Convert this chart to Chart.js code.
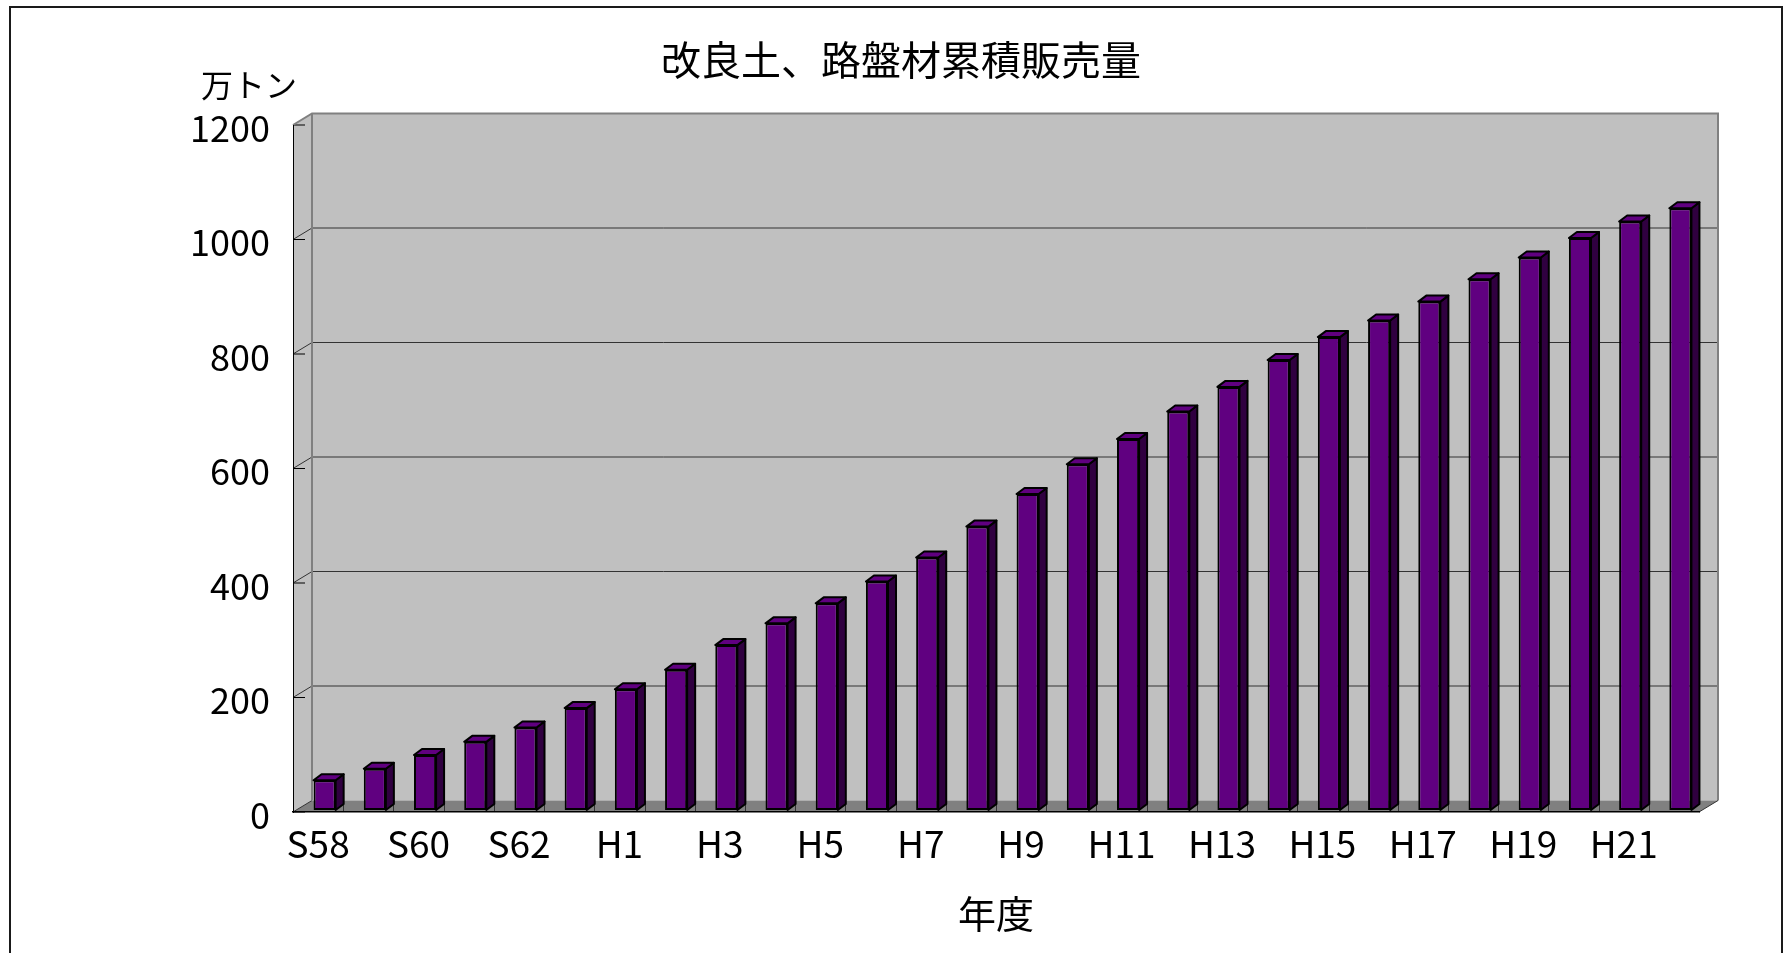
<!DOCTYPE html>
<html lang="ja">
<head>
  <meta charset="UTF-8" />
  <title>改良土、路盤材累積販売量</title>
  <script src="https://cdn.jsdelivr.net/npm/chart.js"></script>
  <style>
    body {
      margin: 0;
      background: #fff;
      overflow: hidden;
    }

    .chart-box {
      position: relative;
      width: 1787px;
      height: 953px;
    }
  </style>
</head>
<body>

  <div class="chart-box">
    <canvas id="salesChart"></canvas>
  </div>

  <script>
    // fiscal years (Showa 58 .. Heisei 22)
    const years = ['S58', 'S59', 'S60', 'S61', 'S62', 'S63',
      'H1', 'H2', 'H3', 'H4', 'H5', 'H6', 'H7', 'H8', 'H9', 'H10', 'H11',
      'H12', 'H13', 'H14', 'H15', 'H16', 'H17', 'H18', 'H19', 'H20', 'H21', 'H22'];

    // cumulative sales, 10k tonnes
    const totals = [52, 72, 96, 119, 144, 178, 211, 245, 288, 326, 361, 399, 441, 495,
      552, 604, 648, 696, 739, 786, 826, 855, 888, 927, 965, 999, 1028, 1051];

    const yMin = 0;
    const yMax = 1200;
    const yStep = 200;

    const chartTitle = '改良土、路盤材累積販売量';
    const xTitle = '年度';
    const yUnit = '万トン';

    const FONT = "'Noto Sans CJK JP', 'Noto Sans', sans-serif";

    // 3d look: offset of the back wall, of the bar depth and of the bars themselves
    const WALL = { dx: 19, dy: -11.5 };
    const BAR = { dx: 8, dy: -6 };
    const SHIFT = { dx: 6.5, dy: -2 };

    const purple = '#600080';
    const purpleDark = '#300040';

    const wall3d = {
      id: 'wall3d',
      beforeDraw(chart) {
        const { ctx, chartArea: a, scales: { x, y } } = chart;
        const bl = a.left + WALL.dx, br = a.right + WALL.dx;
        const bt = a.top + WALL.dy, bb = a.bottom + WALL.dy;

        ctx.save();
        ctx.fillStyle = '#fff';
        ctx.fillRect(0, 0, chart.width, chart.height);

        // outer frame
        ctx.strokeStyle = '#1a1a1a';
        ctx.lineWidth = 2;
        ctx.strokeRect(10, 7, chart.width - 15, chart.height + 10);

        // side wall + back wall
        ctx.fillStyle = '#c0c0c0';
        ctx.beginPath();
        ctx.moveTo(a.left, a.top);
        ctx.lineTo(bl, bt);
        ctx.lineTo(bl, bb);
        ctx.lineTo(a.left, a.bottom);
        ctx.closePath();
        ctx.fill();
        ctx.fillRect(bl, bt, br - bl, bb - bt);

        // floor
        ctx.fillStyle = '#808080';
        ctx.beginPath();
        ctx.moveTo(a.left, a.bottom);
        ctx.lineTo(bl, bb);
        ctx.lineTo(br, bb);
        ctx.lineTo(a.right, a.bottom);
        ctx.closePath();
        ctx.fill();

        // gridlines on back wall, diagonals + small ticks on the side wall
        y.ticks.forEach(t => {
          const py = y.getPixelForValue(t.value);
          ctx.strokeStyle = '#333';
          ctx.lineWidth = 1;
          if (t.value !== yMin && t.value !== yMax) {
            ctx.beginPath();
            ctx.moveTo(bl, py + WALL.dy);
            ctx.lineTo(br, py + WALL.dy);
            ctx.stroke();
          }
          if (t.value !== yMax) {
            ctx.beginPath();
            ctx.moveTo(a.left, py);
            ctx.lineTo(bl, py + WALL.dy);
            ctx.stroke();
          }
          ctx.strokeStyle = '#000';
          ctx.beginPath();
          ctx.moveTo(a.left, py);
          ctx.lineTo(a.left + 12, py);
          ctx.stroke();
        });

        // floor separators between categories
        ctx.strokeStyle = '#333';
        for (let i = 1; i < years.length; i++) {
          const px = Math.round((x.getPixelForValue(i - 1) + x.getPixelForValue(i)) / 2) + 0.5;
          ctx.beginPath();
          ctx.moveTo(px, a.bottom);
          ctx.lineTo(px, bb);
          ctx.stroke();
        }

        // wall edges
        ctx.strokeStyle = '#808080';
        ctx.lineWidth = 2;
        ctx.beginPath();
        ctx.moveTo(a.left, a.top);
        ctx.lineTo(bl, bt);
        ctx.lineTo(br, bt);
        ctx.lineTo(br, bb);
        ctx.moveTo(bl, bt);
        ctx.lineTo(bl, bb);
        ctx.stroke();

        ctx.strokeStyle = '#333';
        ctx.lineWidth = 1;
        ctx.beginPath();
        ctx.moveTo(a.right, a.bottom);
        ctx.lineTo(br, bb);
        ctx.stroke();
        ctx.restore();
      },

      beforeDatasetsDraw(chart) {
        const { ctx } = chart;
        ctx.save();
        ctx.translate(SHIFT.dx, SHIFT.dy);

        // side and top faces of every bar
        chart.getDatasetMeta(0).data.forEach(bar => {
          const { x, y, base, width } = bar.getProps(['x', 'y', 'base', 'width'], true);
          const l = x - width / 2, r = x + width / 2;
          ctx.lineWidth = 2;
          ctx.strokeStyle = '#000';
          ctx.lineJoin = 'round';

          ctx.fillStyle = purpleDark;
          ctx.beginPath();
          ctx.moveTo(r, y);
          ctx.lineTo(r + BAR.dx, y + BAR.dy);
          ctx.lineTo(r + BAR.dx, base + BAR.dy);
          ctx.lineTo(r, base);
          ctx.closePath();
          ctx.fill();
          ctx.stroke();

          ctx.fillStyle = purple;
          ctx.beginPath();
          ctx.moveTo(l, y);
          ctx.lineTo(l + BAR.dx, y + BAR.dy);
          ctx.lineTo(r + BAR.dx, y + BAR.dy);
          ctx.lineTo(r, y);
          ctx.closePath();
          ctx.fill();
          ctx.stroke();
        });
      },

      afterDatasetsDraw(chart) {
        const { ctx, chartArea: a } = chart;
        ctx.restore();

        // unit label above the value axis
        ctx.save();
        ctx.fillStyle = '#000';
        ctx.font = `32px ${FONT}`;
        ctx.textAlign = 'center';
        ctx.textBaseline = 'middle';
        ctx.fillText(yUnit, a.left - 44, a.top - 40);
        ctx.restore();
      }
    };

    Chart.defaults.font.family = FONT;
    Chart.defaults.color = '#000';

    new Chart(document.getElementById('salesChart'), {
      type: 'bar',
      data: {
        labels: years,
        datasets: [{
          data: totals,
          backgroundColor: purple,
          borderColor: '#000',
          borderWidth: 2,
          borderSkipped: false,
          barPercentage: 0.44,
          categoryPercentage: 1
        }]
      },
      options: {
        responsive: true,
        maintainAspectRatio: false,
        animation: false,
        layout: {
          padding: { left: 103, right: 88, top: 10, bottom: 0 }
        },
        plugins: {
          legend: { display: false },
          tooltip: { enabled: false },
          title: {
            display: true,
            text: chartTitle,
            color: '#000',
            font: { size: 40, weight: 'normal' },
            padding: { top: 26, bottom: 41 }
          }
        },
        scales: {
          x: {
            grid: { display: false, drawTicks: false },
            border: { display: true, color: '#000', width: 1.5 },
            ticks: {
              autoSkip: false,
              maxRotation: 0,
              padding: 10,
              font: { size: 37 },
              callback: (v, i) => (i % 2 === 0 ? years[i] : '')
            },
            title: {
              display: true,
              text: xTitle,
              font: { size: 38 },
              padding: { top: 0, bottom: 17 }
            },
            afterFit: s => { s.height = 141; }
          },
          y: {
            min: yMin,
            max: yMax,
            grid: { display: false, drawTicks: false },
            border: { display: true, color: '#000', width: 1 },
            ticks: {
              stepSize: yStep,
              padding: 23,
              labelOffset: 3,
              font: { size: 36 },
              callback: v => String(v)
            },
            afterFit: s => { s.width = 190; }
          }
        }
      },
      plugins: [wall3d]
    });
  </script>

</body>
</html>
